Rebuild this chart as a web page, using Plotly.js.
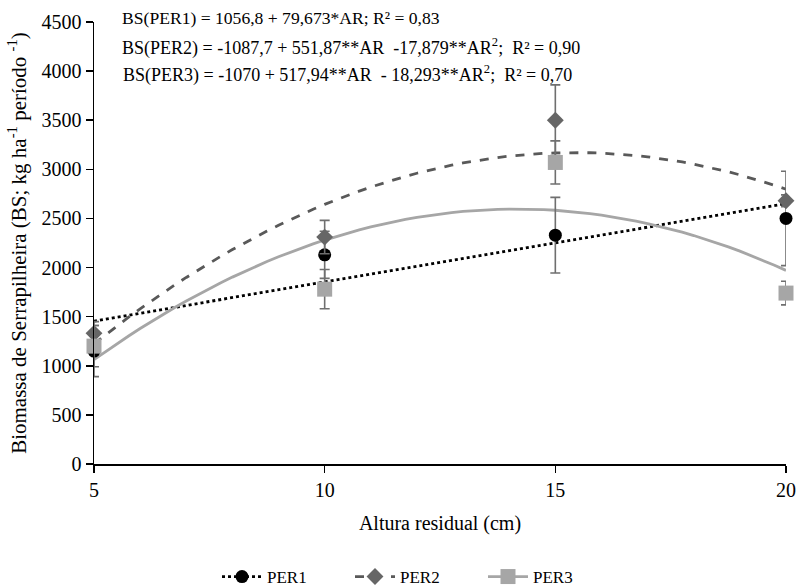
<!DOCTYPE html>
<html>
<head>
<meta charset="utf-8">
<script src="https://cdn.plot.ly/plotly-3.0.1.min.js"></script>
<style>
  html, body { margin: 0; padding: 0; background: #fff; }
  #chart { width: 797px; height: 587px; }
</style>
</head>
<body>
<div id="chart"></div>
<script>
// Altura residual (cm)
const alturas = [5, 10, 15, 20];

// Mean litter biomass per period (kg/ha)
const per1 = [1150, 2130, 2330, 2500];
const per2 = [1330, 2310, 3500, 2680];
const per3 = [1200, 1780, 3070, 1740];

// Error bar half-widths
const erro1 = [260, 240, 385, 480];
const erro2 = [120, 170, 360, 60];
const erro3 = [210, 200, 220, 120];

// Regression coefficients [intercept, linear, quadratic]
const coef1 = [1056.8, 79.673, 0];
const coef2 = [-1087.7, 551.87, -17.879];
const coef3 = [-1070, 517.94, -18.293];

const equacoes = [
  "BS(PER1) = 1056,8 + 79,673*AR; R² = 0,83",
  "BS(PER2) = -1087,7 + 551,87**AR \u00a0-17,879**AR<sup>2</sup>; \u00a0R² = 0,90",
  "BS(PER3) = -1070 + 517,94**AR \u00a0- 18,293**AR<sup>2</sup>; \u00a0R² = 0,70"
];

const fonte = "Liberation Serif, Times New Roman, serif";

// Fitted curves evaluated along the x range
function curva(c) {
  const xs = [], ys = [];
  for (let x = 5; x <= 20.0001; x += 0.25) {
    xs.push(x);
    ys.push(c[0] + c[1] * x + c[2] * x * x);
  }
  return { x: xs, y: ys };
}

const estilos = [
  { nome: "PER1", y: per1, e: erro1, c: coef1, cor: "#000000", linha: "#000000", dash: "dot", simbolo: "circle", tam: 13 },
  { nome: "PER2", y: per2, e: erro2, c: coef2, cor: "#666666", linha: "#595959", dash: "dash", simbolo: "diamond", tam: 13 },
  { nome: "PER3", y: per3, e: erro3, c: coef3, cor: "#a6a6a6", linha: "#a6a6a6", dash: "solid", simbolo: "square", tam: 15 }
];

const traces = [];
// Regression lines
estilos.forEach(s => {
  const k = curva(s.c);
  traces.push({
    x: k.x, y: k.y, type: "scatter", mode: "lines",
    line: { color: s.linha, width: 2.8, dash: s.dash },
    showlegend: false, hoverinfo: "skip", cliponaxis: false
  });
});
// Observed means with error bars
estilos.forEach(s => {
  traces.push({
    x: alturas, y: s.y, type: "scatter", mode: "markers",
    marker: { color: s.cor, symbol: s.simbolo, size: s.tam },
    error_y: { type: "data", array: s.e, visible: true, color: "#6f6f6f", thickness: 1.6, width: 5 },
    showlegend: false, cliponaxis: false
  });
});
// Legend entries
estilos.forEach(s => {
  traces.push({
    x: [null], y: [null], type: "scatter", mode: "lines+markers", name: s.nome,
    line: { color: s.linha, width: 2.8, dash: s.dash },
    marker: { color: s.cor, symbol: s.simbolo, size: s.tam },
    showlegend: true
  });
});

const anotacoes = equacoes.map((t, i) => ({
  text: t, xref: "paper", yref: "paper",
  x: ([120, 120, 121][i] - 94) / 692, y: 1 - ([-4, 25, 52][i]) / 442,
  xanchor: "left", yanchor: "middle", showarrow: false,
  font: { family: fonte, size: [17.6, 18, 18][i], color: "#000" }
}));

const layout = {
  width: 797, height: 587,
  margin: { l: 94, r: 11, t: 22, b: 123, autoexpand: false },
  paper_bgcolor: "#fff", plot_bgcolor: "#fff",
  font: { family: fonte, size: 20, color: "#000" },
  xaxis: {
    range: [5, 20], tickvals: alturas, ticktext: alturas.map(String),
    showgrid: false, zeroline: false, showline: true, linecolor: "#000", linewidth: 1.5,
    ticks: "outside", ticklen: 7, tickcolor: "#000", tickwidth: 1.5,
    tickfont: { family: fonte, size: 20 },
    title: { text: "Altura residual (cm)", font: { family: fonte, size: 20 }, standoff: 16 }
  },
  yaxis: {
    range: [0, 4500], dtick: 500,
    showgrid: false, zeroline: false, showline: true, linecolor: "#000", linewidth: 1.5,
    ticks: "outside", ticklen: 7, tickcolor: "#000", tickwidth: 1.5,
    tickfont: { family: fonte, size: 20 },
    title: { text: "Biomassa de Serrapilheira (BS; kg ha<sup>-1</sup> período <sup>-1</sup>)", font: { family: fonte, size: 21 }, standoff: 9 }
  },
  legend: {
    orientation: "h", x: (217 - 94) / 692, xanchor: "left", y: -113 / 442, yanchor: "middle",
    font: { family: fonte, size: 17 }, itemwidth: 40,
    entrywidth: 78, entrywidthmode: "pixels"
  },
  annotations: anotacoes,
  showlegend: true
};

Plotly.newPlot("chart", traces, layout, { staticPlot: true, displayModeBar: false });
</script>
</body>
</html>
